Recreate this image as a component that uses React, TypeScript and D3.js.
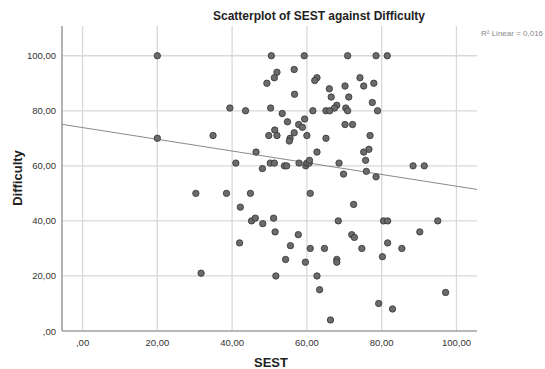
import React, { useEffect, useRef } from 'react';
import * as d3 from 'd3';

const sest = [
  20, 20, 50.5, 59.3, 52, 51.3, 49.3, 56.6, 62.7, 62.1, 56.7, 66, 66.5, 68, 67.4, 65.1, 66.1, 61.6,
  39.4, 43.6, 50.3, 53.4, 54.8, 59.4, 57.8, 58.8, 51.4, 49.8, 52, 56.6, 60, 55.5, 55.3, 34.9, 65.1,
  46.4, 62.7, 41, 48.1, 50.2, 51.3, 54, 54.6, 57.9, 59.7, 60, 60.6, 60.7, 68.6, 70.9, 78.5, 81.5,
  74.2, 77.9, 75.2, 70.2, 71.2, 77.5, 70.4, 70.9, 78.9, 70.2, 72.2, 76.9, 76.6, 75.2, 75.7, 69.8,
  75.9, 78.5, 88.4, 91.4, 30.3, 31.7, 38.5, 44.9, 60.9, 42.2, 45.2, 46.2, 48.2, 51.1, 51.5, 57.7,
  68.4, 42, 55.6, 60.9, 64.7, 54.3, 59.6, 68, 68, 51.7, 62.7, 63.4, 66.3, 72.5, 80.5, 81.6, 95,
  90.2, 72, 72.7, 81.6, 74.7, 85.4, 80.2, 97.1, 79.2, 82.9,
];

const difficulty = [
  100, 70, 100, 100, 94, 92, 90, 95, 92, 91, 86, 88, 85, 82, 81, 80, 80, 80,
  81, 80, 81, 79, 76, 77, 75, 74, 73, 71, 71, 72, 71, 70, 69, 71, 70,
  65, 65, 61, 59, 61, 61, 60, 60, 61, 60, 61, 61, 62, 61, 100, 100, 100,
  92, 90, 89, 89, 85, 83, 81, 80, 80, 75, 75, 71, 66, 65, 62, 57,
  58, 56, 60, 60, 50, 21, 50, 50, 50, 45, 40, 41, 39, 41, 36, 35,
  40, 32, 31, 30, 30, 26, 25, 26, 25, 20, 20, 15, 4, 46, 40, 40, 40,
  36, 35, 34, 32, 30, 30, 27, 14, 10, 8,
];

const xTicks = [0, 20, 40, 60, 80, 100];
const yTicks = [0, 20, 40, 60, 80, 100];

// fit line as shown in the chart
const fitIntercept = 73.9;
const fitSlope = -0.213;
const rSquared = '0,016';

const fmt = (v: number) => (v === 0 ? ',00' : `${v},00`);

const W = 545;
const H = 369;
const margin = { top: 26, right: 68, bottom: 38, left: 62 };

const App = () => {
  const ref = useRef<SVGSVGElement>(null);

  useEffect(() => {
    if (!ref.current) return;
    const svg = d3.select(ref.current);
    svg.selectAll('*').remove();

    const x = d3.scaleLinear().domain([-5.5, 105.5]).range([margin.left, W - margin.right]);
    const y = d3.scaleLinear().domain([0, 110.8]).range([H - margin.bottom, margin.top]);
    const [x0, x1] = x.range();
    const [y0, y1] = y.range();

    const font = 'Arial, "Liberation Sans", sans-serif';

    // grid
    svg
      .append('g')
      .selectAll('line')
      .data(yTicks.filter((d) => d > 0))
      .join('line')
      .attr('x1', x0)
      .attr('x2', x1)
      .attr('y1', (d) => y(d))
      .attr('y2', (d) => y(d))
      .attr('stroke', '#d9d9d9')
      .attr('stroke-width', 1.3);
    svg
      .append('g')
      .selectAll('line')
      .data(xTicks)
      .join('line')
      .attr('x1', (d) => x(d))
      .attr('x2', (d) => x(d))
      .attr('y1', y0)
      .attr('y2', y1)
      .attr('stroke', '#d9d9d9')
      .attr('stroke-width', 1.3);

    // axes
    svg
      .append('line')
      .attr('x1', x0)
      .attr('x2', x0)
      .attr('y1', y1)
      .attr('y2', y0)
      .attr('stroke', '#a0a0a0')
      .attr('stroke-width', 1.6);
    svg
      .append('line')
      .attr('x1', x0)
      .attr('x2', x1)
      .attr('y1', y0)
      .attr('y2', y0)
      .attr('stroke', '#a0a0a0')
      .attr('stroke-width', 1.6);

    // tick labels
    svg
      .append('g')
      .selectAll('text')
      .data(yTicks)
      .join('text')
      .attr('x', x0 - 6)
      .attr('y', (d) => y(d) + 3.5)
      .attr('text-anchor', 'end')
      .attr('font-family', font)
      .attr('font-size', 9.5)
      .attr('fill', '#333')
      .text(fmt);
    svg
      .append('g')
      .selectAll('text')
      .data(xTicks)
      .join('text')
      .attr('x', (d) => x(d))
      .attr('y', y0 + 15)
      .attr('text-anchor', 'middle')
      .attr('font-family', font)
      .attr('font-size', 9.5)
      .attr('fill', '#333')
      .text(fmt);

    // fit line
    const [dx0, dx1] = x.domain();
    svg
      .append('line')
      .attr('x1', x(dx0))
      .attr('y1', y(fitIntercept + fitSlope * dx0))
      .attr('x2', x(dx1))
      .attr('y2', y(fitIntercept + fitSlope * dx1))
      .attr('stroke', '#8a8a8a')
      .attr('stroke-width', 1);

    // points
    svg
      .append('g')
      .selectAll('circle')
      .data(sest)
      .join('circle')
      .attr('cx', (d) => x(d))
      .attr('cy', (d, i) => y(difficulty[i]))
      .attr('r', 3.2)
      .attr('fill', '#6b6b6b')
      .attr('stroke', '#333')
      .attr('stroke-width', 0.8);

    // titles
    svg
      .append('text')
      .attr('x', 319)
      .attr('y', 20)
      .attr('text-anchor', 'middle')
      .attr('font-family', font)
      .attr('font-weight', 'bold')
      .attr('font-size', 12)
      .attr('fill', '#222')
      .text('Scatterplot of SEST against Difficulty');
    svg
      .append('text')
      .attr('x', 271)
      .attr('y', 367)
      .attr('text-anchor', 'middle')
      .attr('font-family', font)
      .attr('font-weight', 'bold')
      .attr('font-size', 13)
      .attr('fill', '#222')
      .text('SEST');
    svg
      .append('text')
      .attr('transform', `translate(22,178) rotate(-90)`)
      .attr('text-anchor', 'middle')
      .attr('font-family', font)
      .attr('font-weight', 'bold')
      .attr('font-size', 13)
      .attr('fill', '#222')
      .text('Difficulty');
    svg
      .append('text')
      .attr('x', 481)
      .attr('y', 36)
      .attr('font-family', font)
      .attr('font-size', 8)
      .attr('fill', '#888')
      .text(`R² Linear = ${rSquared}`);
  }, []);

  return (
    <svg
      ref={ref}
      width={W}
      height={H}
      style={{ position: 'absolute', left: 0, top: 0, background: '#fff' }}
    />
  );
};

export default App;
